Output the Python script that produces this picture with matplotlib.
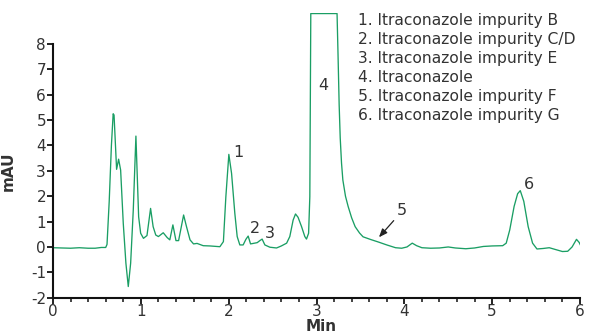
import numpy as np
import matplotlib
matplotlib.use('Agg')
import matplotlib.pyplot as plt
from matplotlib.ticker import MultipleLocator

plt.rcParams['font.family'] = ['DejaVu Sans']
plt.rcParams['axes.unicode_minus'] = False

# retention time (min) and detector signal (mAU)
t = [0.00, 0.10, 0.20, 0.30, 0.40, 0.48, 0.55, 0.60, 0.615, 0.64, 0.665, 0.685, 0.695,
     0.724, 0.747, 0.77, 0.80, 0.83, 0.857, 0.884, 0.914, 0.944, 0.975, 0.998, 1.03,
     1.07, 1.111, 1.14, 1.17, 1.20, 1.255, 1.30, 1.33, 1.365, 1.40, 1.43, 1.487, 1.52,
     1.56, 1.60, 1.64, 1.71, 1.786, 1.90, 1.94, 1.968, 2.002, 2.033, 2.07, 2.097, 2.127,
     2.165, 2.196, 2.222, 2.249, 2.28, 2.325, 2.355, 2.381, 2.412, 2.469, 2.545, 2.60,
     2.66, 2.696, 2.734, 2.761, 2.79, 2.83, 2.867, 2.886, 2.91, 2.924, 2.935, 3.234,
     3.245, 3.258, 3.27, 3.285, 3.30, 3.33, 3.36, 3.40, 3.44, 3.49, 3.53, 3.62, 3.70,
     3.80, 3.90, 3.97, 4.03, 4.09, 4.14, 4.20, 4.30, 4.40, 4.50, 4.58, 4.70, 4.80, 4.90,
     5.00, 5.12, 5.16, 5.20, 5.25, 5.29, 5.32, 5.36, 5.41, 5.46, 5.51, 5.58, 5.65,
     5.72, 5.80, 5.86, 5.91, 5.96, 5.99, 6.01]
mau = [-0.03, -0.04, -0.05, -0.03, -0.05, -0.05, -0.02, -0.02, 0.1, 1.8, 4.0, 5.25, 5.2,
       3.06, 3.46, 3.03, 0.93, -0.64, -1.56, -0.64, 1.46, 4.37, 1.19, 0.54, 0.34,
       0.45, 1.52, 0.8, 0.47, 0.41, 0.56, 0.37, 0.28, 0.87, 0.25, 0.25, 1.26, 0.8,
       0.28, 0.12, 0.14, 0.05, 0.04, 0.01, 0.21, 1.98, 3.65, 2.9, 1.33, 0.41, 0.08,
       0.08, 0.3, 0.43, 0.12, 0.14, 0.17, 0.25, 0.31, 0.08, -0.01, -0.04, 0.04,
       0.15, 0.41, 1.06, 1.30, 1.17, 0.8, 0.41, 0.31, 0.54, 1.98, 9.2, 9.2,
       7.6, 5.6, 4.3, 3.3, 2.64, 2.0, 1.6, 1.15, 0.8, 0.55, 0.4, 0.29, 0.2,
       0.08, -0.03, -0.05, 0.0, 0.15, 0.05, -0.03, -0.05, -0.04, 0.0, -0.04, -0.07, -0.04, 0.02,
       0.04, 0.05, 0.15, 0.67, 1.6, 2.1, 2.22, 1.8, 0.8, 0.15, -0.08, -0.06, -0.03,
       -0.1, -0.18, -0.17, 0.0, 0.3, 0.18, 0.04]

peak_ids = ['1', '2', '3', '4', '5', '6']
peak_lbl_x = [2.116, 2.30, 2.47, 3.08, 3.97, 5.415]
peak_lbl_y = [3.74, 0.71, 0.55, 6.38, 1.42, 2.48]

names = ['Itraconazole impurity B', 'Itraconazole impurity C/D',
         'Itraconazole impurity E', 'Itraconazole',
         'Itraconazole impurity F', 'Itraconazole impurity G']

txt = '#333333'
green = '#1a9e64'

fig = plt.figure(figsize=(5.97, 3.33), dpi=100)
ax = fig.add_axes([53/597, 1-297.7/333, 527/597, (297.7-13.3)/333])

ax.plot(t, mau, color=green, lw=0.95, clip_on=True)

ax.set_xlim(0, 6)
ax.set_ylim(-2, 9.21)
ax.spines['top'].set_visible(False)
ax.spines['right'].set_visible(False)
ax.spines['left'].set_bounds(-2, 8)
for s in ['left', 'bottom']:
    ax.spines[s].set_linewidth(1.5)
    ax.spines[s].set_color('#111111')

ax.set_yticks(range(-2, 9))
ax.set_xticks(range(0, 7))
ax.xaxis.set_minor_locator(MultipleLocator(0.2))
ax.tick_params(axis='both', which='major', length=4, width=1.3, color='#111111',
               labelsize=11, labelcolor=txt, pad=1)
ax.tick_params(axis='x', which='major', pad=0.5)
ax.tick_params(axis='x', which='minor', length=3, width=1.1, color='#111111')

ax.set_ylabel('mAU', fontsize=11, fontweight='bold', color=txt)
ax.yaxis.set_label_coords(-0.07, 0.445)
ax.set_xlabel('Min', fontsize=11, fontweight='bold', color=txt)
ax.xaxis.set_label_coords(0.508, -0.074)

for i in range(len(peak_ids)):
    ax.text(peak_lbl_x[i], peak_lbl_y[i], peak_ids[i], fontsize=11.5, color=txt,
            ha='center', va='center')

ax.annotate('', xy=(3.69, 0.30), xytext=(3.90, 1.12),
            arrowprops=dict(arrowstyle='-|>,head_length=0.5,head_width=0.2',
                            color='#222222', lw=0.9))

for i in range(len(names)):
    fig.text(357.7/597, 1-(20 + 19.2*i)/333, f'{i+1}. {names[i]}', fontsize=11.2,
             color=txt, ha='left', va='center')

plt.savefig('out.png', dpi=100)
